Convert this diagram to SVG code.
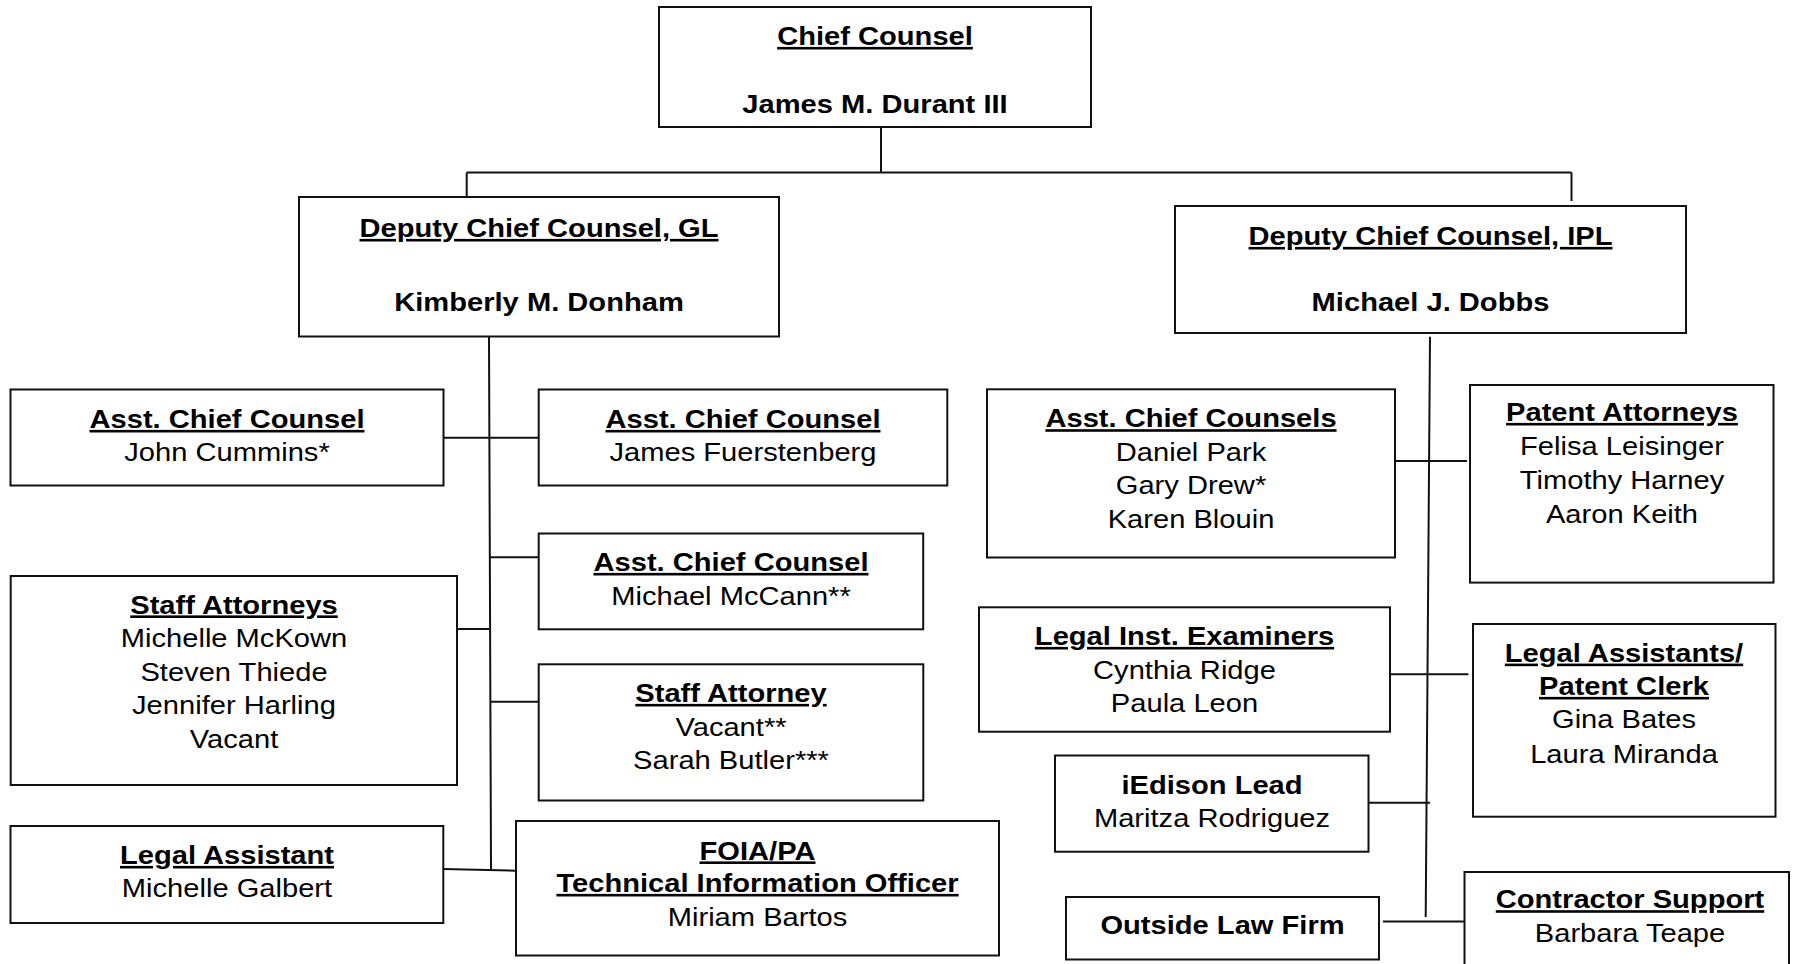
<svg xmlns="http://www.w3.org/2000/svg" width="1802" height="964" viewBox="0 0 1802 964">
<style>
.box{fill:#fff;stroke:#111;stroke-width:2}
.ln{fill:none;stroke:#111;stroke-width:2}
text{font-family:"Liberation Sans",Arial,sans-serif;font-size:26px;fill:#000;text-anchor:middle}
.u{font-weight:bold;text-decoration:underline;text-decoration-thickness:3px}
.h{font-weight:bold}
</style>
<rect width="1802" height="964" fill="#fff"/>
<g id="connectors">
<path class="ln" d="M881 127V172.5M466.7 172.5H1571.5M466.7 172.5V197M1571.5 172.5V201"/>
<path class="ln" d="M489 337L491 869M443.5 437.7H538.7M489 557.3H538.7M457 629H489M490 701.7H538.7M443.3 869L516 870.7"/>
<path class="ln" d="M1430 336.7L1425.7 917M1395 461H1467M1390 674.3H1468.4M1368.5 802.7H1430M1383 921.5H1464.5"/>
</g>
<g id="chief">
<rect class="box" x="659" y="7" width="432" height="120"/>
<text class="u" transform="translate(875 45) scale(1.12 1)">Chief Counsel</text>
<text class="h" transform="translate(875 113) scale(1.12 1)">James M. Durant III</text>
</g>
<g id="deputy-gl">
<rect class="box" x="299" y="197" width="480" height="139.5"/>
<text class="u" transform="translate(539 237) scale(1.12 1)">Deputy Chief Counsel, GL</text>
<text class="h" transform="translate(539 310.5) scale(1.12 1)">Kimberly M. Donham</text>
</g>
<g id="deputy-ipl">
<rect class="box" x="1175" y="206" width="511" height="127"/>
<text class="u" transform="translate(1430.5 245) scale(1.12 1)">Deputy Chief Counsel, IPL</text>
<text class="h" transform="translate(1430.5 311) scale(1.12 1)">Michael J. Dobbs</text>
</g>
<g id="acc-cummins">
<rect class="box" x="10.5" y="389.5" width="433" height="96"/>
<text class="u" transform="translate(227 428) scale(1.12 1)">Asst. Chief Counsel</text>
<text transform="translate(227 461) scale(1.12 1)">John Cummins*</text>
</g>
<g id="acc-fuerstenberg">
<rect class="box" x="538.7" y="389.5" width="408.6" height="96"/>
<text class="u" transform="translate(743 428) scale(1.12 1)">Asst. Chief Counsel</text>
<text transform="translate(743 461) scale(1.12 1)">James Fuerstenberg</text>
</g>
<g id="acc-mccann">
<rect class="box" x="538.7" y="533.5" width="384.5" height="95.8"/>
<text class="u" transform="translate(731 571) scale(1.12 1)">Asst. Chief Counsel</text>
<text transform="translate(731 604.5) scale(1.12 1)">Michael McCann**</text>
</g>
<g id="staff-attorneys">
<rect class="box" x="10.7" y="576" width="446.3" height="209"/>
<text class="u" transform="translate(234 613.5) scale(1.12 1)">Staff Attorneys</text>
<text transform="translate(234 647) scale(1.12 1)">Michelle McKown</text>
<text transform="translate(234 680.5) scale(1.12 1)">Steven Thiede</text>
<text transform="translate(234 714) scale(1.12 1)">Jennifer Harling</text>
<text transform="translate(234 747.5) scale(1.12 1)">Vacant</text>
</g>
<g id="staff-attorney">
<rect class="box" x="538.7" y="664.3" width="384.6" height="136.2"/>
<text class="u" transform="translate(731 702) scale(1.12 1)">Staff Attorney</text>
<text transform="translate(731 735.5) scale(1.12 1)">Vacant**</text>
<text transform="translate(731 769) scale(1.12 1)">Sarah Butler***</text>
</g>
<g id="legal-assistant">
<rect class="box" x="10.5" y="826" width="432.8" height="97"/>
<text class="u" transform="translate(227 864) scale(1.12 1)">Legal Assistant</text>
<text transform="translate(227 897) scale(1.12 1)">Michelle Galbert</text>
</g>
<g id="foia">
<rect class="box" x="516" y="821" width="483" height="134.5"/>
<text class="u" transform="translate(757.5 859.5) scale(1.12 1)">FOIA/PA</text>
<text class="u" transform="translate(757.5 892) scale(1.12 1)">Technical Information Officer</text>
<text transform="translate(757.5 926) scale(1.12 1)">Miriam Bartos</text>
</g>
<g id="acc-ipl">
<rect class="box" x="987" y="389.3" width="408" height="168.2"/>
<text class="u" transform="translate(1191 427.3) scale(1.12 1)">Asst. Chief Counsels</text>
<text transform="translate(1191 460.7) scale(1.12 1)">Daniel Park</text>
<text transform="translate(1191 494.3) scale(1.12 1)">Gary Drew*</text>
<text transform="translate(1191 527.7) scale(1.12 1)">Karen Blouin</text>
</g>
<g id="patent-attorneys">
<rect class="box" x="1470" y="385" width="303.5" height="197.6"/>
<text class="u" transform="translate(1622 421) scale(1.12 1)">Patent Attorneys</text>
<text transform="translate(1622 455) scale(1.12 1)">Felisa Leisinger</text>
<text transform="translate(1622 489) scale(1.12 1)">Timothy Harney</text>
<text transform="translate(1622 522.5) scale(1.12 1)">Aaron Keith</text>
</g>
<g id="legal-inst-examiners">
<rect class="box" x="979" y="607.3" width="411" height="124.4"/>
<text class="u" transform="translate(1184.5 645) scale(1.12 1)">Legal Inst. Examiners</text>
<text transform="translate(1184.5 678.5) scale(1.12 1)">Cynthia Ridge</text>
<text transform="translate(1184.5 712) scale(1.12 1)">Paula Leon</text>
</g>
<g id="legal-assistants-patent-clerk">
<rect class="box" x="1473" y="624" width="302.5" height="192.7"/>
<text class="u" transform="translate(1624 661.7) scale(1.12 1)">Legal Assistants/</text>
<text class="u" transform="translate(1624 695) scale(1.12 1)">Patent Clerk</text>
<text transform="translate(1624 728.3) scale(1.12 1)">Gina Bates</text>
<text transform="translate(1624 762.5) scale(1.12 1)">Laura Miranda</text>
</g>
<g id="iedison-lead">
<rect class="box" x="1055" y="755.5" width="313.5" height="96.2"/>
<text class="h" transform="translate(1212 793.5) scale(1.12 1)">iEdison Lead</text>
<text transform="translate(1212 827) scale(1.12 1)">Maritza Rodriguez</text>
</g>
<g id="outside-law-firm">
<rect class="box" x="1066" y="897" width="313" height="62.5"/>
<text class="h" transform="translate(1222.5 934) scale(1.12 1)">Outside Law Firm</text>
</g>
<g id="contractor-support">
<rect class="box" x="1464.5" y="872" width="324.5" height="100"/>
<text class="u" transform="translate(1630 908.3) scale(1.12 1)">Contractor Support</text>
<text transform="translate(1630 941.7) scale(1.12 1)">Barbara Teape</text>
</g>
</svg>
